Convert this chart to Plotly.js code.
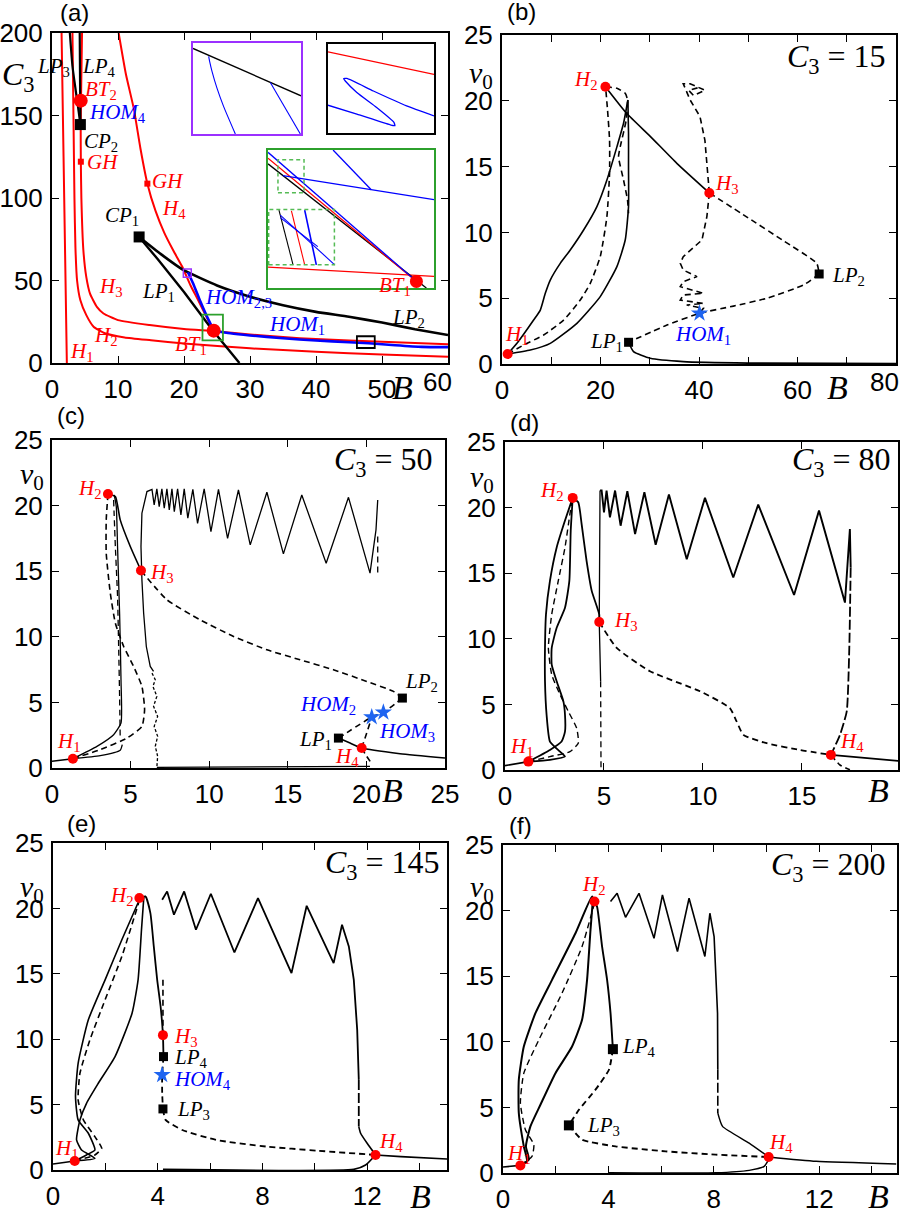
<!DOCTYPE html>
<html><head><meta charset="utf-8">
<script src="https://cdn.plot.ly/plotly-3.0.1.min.js"></script>
<style>html,body{margin:0;padding:0;background:#fff}#g{width:903px;height:1211px}</style>
</head><body><div id="g"></div>
<script>
// ---------------- DATA ----------------
// Panel (a): two-parameter diagram (B, C3)
const aH1 = [[1.45,200],[1.65,150],[1.85,100],[2.05,50],[2.25,0]];
const aH2 = [[3.1,200],[3.25,150],[3.4,100],[3.55,70],[3.8,50],[4.3,38],[5.2,29],[6.3,22],[8,18],[11,15.5],[15,13.8],[20,11.8],[30,8.9],[40,6.8],[50,5.1],[60,3.8]];
const aH3 = [[4.55,200],[4.4,160],[4.35,140],[4.37,122],[4.45,100],[4.75,68.5],[5.2,52],[5.76,42],[6.8,34],[7.8,30],[10,26],[14.8,23],[20,20.6],[24.5,19.3],[30,17.3],[35,15.7],[40,14.5],[50,12.9],[60,11.3]];
const aH4 = [[10.1,200],[11.2,175],[12.4,154],[13.4,130],[14.45,108.7],[15.7,92],[17,79],[18.4,68],[19.7,58.6],[21,47],[22.1,38.4],[23.4,28],[24.5,19.6]];
const aLP3 = [[2.7,200],[3.1,180],[3.6,165],[4.05,152],[4.3,144.5]];
const aLP4 = [[4.2,200],[4.25,170],[4.3,144.5]];
const aLP1 = [[13.2,76.4],[16,63],[20,43],[24.3,20],[28.4,0]];
const aLP2 = [[13.2,76.4],[16.5,66],[19.9,56.4],[25,47],[30,40.2],[35,35],[40,31],[45,28],[50,24.5],[55,20.5],[60,17]];
const aHOM23 = [[20.6,55],[21.4,48],[22.4,38],[23.5,28],[24.5,19.8]];
const aHOM1 = [[24.5,19.6],[27,18],[30,16.7],[35,15],[40,13.6],[45,12.6],[48,12],[52,10.8],[56,9.8],[60,9.6]];
const aBT_B = [4.35,24.5], aBT_C = [159,19.6];
const aCP_B = [4.3,13.2], aCP_C = [144.5,76.4];
const aGH_B = [4.37,14.45], aGH_C = [122,108.7];
const aBoxPurple = [19.9,21.1,52,57], aBoxGreen = [22.8,25.9,13.7,29.3], aBoxBlack = [46.2,48.9,9.1,16.2];
// insets of (a), normalised coordinates
const inPurpleBlack = [[0,0.94],[1,0.42]];
const inPurpleBlue1 = [[0.145,0.853],[0.154,0.798],[0.176,0.688],[0.222,0.504],[0.284,0.301],[0.392,0]];
const inPurpleBlue2 = [[0.716,0.566],[0.994,0]];
const inBlackRed = [[0,0.911],[1,0.658]];
const inBlackBlue = [[0,0.312],[0.272,0.212],[0.584,0.093],[0.631,0.082],[0.622,0.119],[0.459,0.286],[0.272,0.454],[0.163,0.584],[0.147,0.61],[0.178,0.613],[0.428,0.472],[0.741,0.305],[1,0.193]];
const inGreenRedLow = [[0,0.151],[1,0.084]];
const inGreenBlueDiag = [[0,0.983],[0.894,0.048]];
const inGreenRedDiag = [[0,0.94],[0.894,0.048]];
const inGreenBlackDiag = [[0,0.9],[0.954,0]];
const inGreenBlueTop = [[0.392,1],[0.622,0.712]];
const inGreenBlueLong = [[0.09,0.815],[0.622,0.712],[1,0.64]];
const inZoomBlack = [[0.066,0.564],[0.151,0.168]];
const inZoomRed = [[0.141,0.559],[0.221,0.168]];
const inZoomBlue1 = [[0.221,0.564],[0.291,0.168]];
const inZoomBlue2 = [[0.074,0.528],[0.402,0.168]];
const inZoomBlue3 = [[0.074,0.51],[0.3,0.3]];
const inGreenBT = [0.894,0.048];

// Panel (b): C3 = 15
const bH2H3 = [[21.0,21.07],[25.3,19.05],[30.1,17.3],[35.5,15.25],[42.1,13.0]];
const bH3LP2 = [[42.1,13.0],[50,11.1],[57,9.4],[63.9,7.65],[64.4,6.84]];
const bLP2LP1 = [[64.4,6.84],[61.2,6.0],[53.8,5.0],[47,4.4],[40.1,3.85],[33.5,2.96],[25.7,1.65]];
const bLP1Tail = [[25.7,1.65],[26.7,0.94],[30.1,0.43],[36.8,0.18],[50,0.07],[80,0.03]];
const bLoopOuter = [[1.15,0.76],[3.04,1.57],[6.42,3.34],[7.78,4.1],[8.79,5.37],[9.8,6.38],[11.83,7.65],[13.86,8.66],[16.57,10.18],[19.27,11.96],[21.3,13.98],[23.33,16.5],[24.68,18.29],[25.56,20.06]];
const bLoopInner = [[25.56,20.06],[25.69,17.53],[25.69,15.0],[25.69,11.96],[25.02,9.42],[23.33,7.4],[19.95,5.12],[15.21,3.09],[9.8,1.57],[5.75,1.06],[1.15,0.76]];
const bDashLeft = [[1.15,0.76],[4.39,1.44],[8.45,2.2],[12.51,3.34],[15.89,4.86],[17.92,6.13],[19.95,8.16],[21.3,11.2],[21.84,14.49],[21.84,17.02],[21.43,19.3],[21.03,21.07]];
const bDashH2 = [[21.03,21.07],[23.33,20.95],[25.02,20.57],[25.49,20.06],[25.22,18.54],[24.0,16.5],[23.66,15.75],[24.68,13.98],[25.49,12.46],[25.69,11.45]];
const bDashUp = [[42.1,13.0],[41.7,15.0],[41.2,17.0],[40.2,18.8],[38.2,20.06],[37.2,20.95],[36.8,21.3],[38.2,21.3],[41.2,20.8],[38.9,20.4],[37.9,20.8],[39.9,21.0]];
const bDashDown = [[42.1,13.0],[41.6,11.2],[40.6,9.42],[36.8,8.16],[36.2,7.65],[36.8,7.14],[39.6,6.64],[36.8,6.26],[36.2,5.88],[40.9,5.37],[36.8,5.24],[36.2,4.86],[40.9,4.6],[37.5,4.48],[40.9,4.23],[40.1,3.85]];
const bHopfB = [1.15,21.0,42.1], bHopfV = [0.76,21.07,13.0];
const bLPB = [25.7,64.4], bLPV = [1.65,6.84];
const bHomB = [40.1], bHomV = [3.85];

// Panel (c): C3 = 50
const cEqLeft = [[0,0.51],[1.33,0.71]];
const cH2H3 = [[3.56,20.89],[4.03,20.69],[4.34,18.91],[4.98,16.88],[5.66,15.05]];
const cH3LP2 = [[5.66,15.05],[7.31,12.82],[9.43,11.29],[11.55,10.03],[13.67,9.01],[15.78,8.25],[17.9,7.49],[20.02,6.6],[21.72,5.84],[22.29,5.33]];
const cLP2LP1 = [[22.29,5.33],[21.08,4.24],[20.34,3.88],[18.22,2.28]];
const cH4Up = [[19.7,1.52],[20.02,2.66],[20.34,3.88]];
const cH4Down = [[19.7,1.52],[20.02,0.89],[20.28,0.43]];
const cEqRight = [[18.22,2.28],[18.96,1.9],[19.7,1.52],[22.14,1.09],[25,0.76]];
const cBottom = [[6.67,0.05],[20.23,0.13]];
const cDashH1H2 = [[1.33,0.71],[3.07,1.4],[4.77,2.28],[5.72,3.17],[5.89,4.44],[5.72,6.22],[5.19,7.74],[4.56,9.26],[4.03,11.04],[3.71,13.32],[3.45,16.37],[3.45,18.91],[3.56,20.89]];
const cSolidUp = [[1.33,0.71],[2.86,1.65],[3.92,2.54],[4.39,3.43],[4.39,6.73],[4.3,11.8],[4.17,16.88],[4.09,19.92],[3.96,20.81]];
const cSolidLow = [[1.33,0.71],[3.07,0.94],[4.34,1.35],[4.47,1.78]];
const cDash2 = [[3.92,20.43],[4.03,16.88],[4.17,13.07],[4.24,9.26],[4.3,5.46],[4.34,2.16]];
const cOsc = [[6.46,7.36],[6.25,7.74],[6.0,9.26],[5.83,11.8],[5.72,14.34],[5.66,16.88],[5.72,19.42],[6.04,21.07],[6.36,21.24],[6.5,20.05],[6.67,21.27],[6.82,19.92],[6.99,21.27],[7.14,19.8],[7.31,21.27],[7.46,19.67],[7.63,21.27],[7.78,19.54],[7.99,21.27],[8.2,19.29],[8.41,21.27],[8.64,19.04],[8.96,21.24],[9.26,18.65],[9.68,21.27],[10.11,18.02],[10.59,21.24],[11.17,17.51],[11.86,21.19],[12.61,17.01],[13.67,21.02],[14.72,16.32],[15.89,20.81],[17.44,15.61],[18.86,20.63],[20.23,14.85],[20.61,18.15],[20.72,20.43]];
const cOscDash = [[20.72,17.64],[20.72,14.85]];
const cWiggle = [[6.36,7.23],[6.57,6.73],[6.42,6.22],[6.67,5.46],[6.46,4.7],[6.72,3.93],[6.5,3.17],[6.72,2.41],[6.57,1.65],[6.72,0.89],[6.67,0.05]];
const cHopfB = [1.33,3.56,5.66,19.7], cHopfV = [0.71,20.89,15.05,1.52];
const cLPB = [18.22,22.29], cLPV = [2.28,5.33];
const cHomB = [20.34,21.08], cHomV = [3.88,4.24];

// Panel (d): C3 = 80
const dEqLeft = [[0,0.33],[1.18,0.64]];
const dH2H3 = [[3.42,20.74],[3.7,20.41],[3.87,18.75],[4.12,15.94],[4.38,13.65],[4.76,11.86],[4.76,11.28]];
const dH3H4 = [[4.76,11.28],[5.64,9.31],[7.32,7.53],[9.85,6.0],[11.36,4.72],[11.7,3.7],[12.04,2.68],[13.22,2.04],[14.9,1.53],[16.46,1.15]];
const dEqRight = [[16.46,1.15],[19.87,0.69]];
const dH4Down = [[16.46,1.15],[16.92,0.38],[17.42,0.02]];
const dVertSolid = [[4.8,21.3],[4.76,11.28],[4.83,6.76]];
const dVertDash = [[4.83,6.76],[4.85,0.02]];
const dOsc = [[4.8,21.3],[4.88,21.3],[5.0,19.64],[5.13,21.3],[5.3,19.26],[5.56,21.3],[5.84,18.62],[6.18,21.25],[6.57,17.98],[7.04,21.17],[7.61,17.17],[8.28,20.99],[9.18,16.07],[10.1,20.74],[11.53,14.67],[12.79,20.23],[14.6,13.34],[15.86,19.77],[17.17,12.76],[17.42,18.37],[17.46,15.43]];
const dRightDash = [[17.46,15.43],[17.39,9.31],[17.26,4.46],[16.92,2.68],[16.46,1.15]];
const dSolidInner = [[1.18,0.64],[2.27,1.53],[2.86,2.17],[3.03,2.93],[3.03,4.21],[2.95,5.23],[2.61,6.76],[2.36,8.04],[2.36,9.31],[2.61,10.84],[3.03,12.37],[3.25,14.41],[3.32,18.24],[3.42,20.74]];
const dSolidOuter = [[3.42,20.74],[3.03,19.01],[2.61,16.96],[2.27,14.41],[2.07,11.86],[2.02,9.31],[2.02,6.76],[2.1,4.21],[2.27,2.17],[2.78,1.4],[3.03,1.02],[2.27,0.77],[1.18,0.64]];
const dDash = [[1.18,0.64],[2.27,1.02],[3.28,1.4],[3.7,2.04],[3.62,3.19],[3.2,4.46],[2.78,5.74],[2.36,7.27],[2.19,9.31],[2.36,11.86],[2.69,14.41],[3.03,16.96],[3.28,19.52],[3.42,20.74]];
const dHopfB = [1.18,3.42,4.76,16.46], dHopfV = [0.64,20.74,11.28,1.15];

// Panel (e): C3 = 145
const eEqLeft = [[0,0.46],[0.83,0.69]];
const eH2H3 = [[3.3,20.79],[3.53,20.92],[3.72,19.64],[3.85,17.09],[3.98,14.54],[4.11,12.5],[4.2,10.31],[4.22,8.67]];
const eDashUpper = [[4.2,14.54],[4.2,10.31]];
const eLP4LP3 = [[4.22,8.67],[4.17,7.27],[4.17,5.87],[4.2,4.67]];
const eLP3H4 = [[4.2,4.67],[4.3,3.83],[4.94,3.06],[6.23,2.3],[8.15,1.79],[10.08,1.48],[12.32,1.15]];
const eEqRight = [[12.32,1.15],[13.29,1.02],[15.08,0.84]];
const eBottom = [[4.2,0.05],[11.49,0.05],[11.94,0.38],[12.32,1.15]];
const eOsc = [[4.17,20.66],[4.36,21.3],[4.62,19.52],[5.01,21.3],[5.46,18.37],[6.03,21.12],[6.93,16.63],[7.83,20.79],[9.11,15.05],[9.69,20.2],[10.72,15.82],[11.04,18.75],[11.3,17.09],[11.49,14.54],[11.62,10.71],[11.68,6.89]];
const eRightDash = [[11.68,6.89],[11.68,3.32]];
const eRightSolid = [[11.68,3.32],[11.75,2.81],[12.0,2.04],[12.32,1.15]];
const eOuter = [[0.83,0.69],[1.28,1.15],[1.6,1.53],[1.35,2.81],[0.96,3.83],[0.86,5.61],[0.96,8.16],[1.35,11.48],[1.99,14.54],[2.63,17.6],[3.3,20.66]];
const eInner = [[0.83,0.69],[1.6,0.89],[1.09,1.53],[0.9,2.3],[1.03,3.83],[1.28,5.1],[1.73,6.63],[2.37,8.67],[3.02,11.99],[3.25,14.54],[3.38,18.37],[3.47,20.87]];
const eDash = [[0.83,0.69],[1.6,1.15],[1.86,1.66],[1.6,2.55],[1.16,3.83],[0.96,5.36],[1.03,7.4],[1.41,9.95],[1.99,13.01],[2.63,16.33],[3.27,20.41]];
const eHopfB = [0.83,3.3,4.2,12.32], eHopfV = [0.69,20.79,10.31,1.15];
const eLPB = [4.22,4.2], eLPV = [8.67,4.67];
const eHomB = [4.17], eHomV = [7.27];

// Panel (f): C3 = 200
const fEqLeft = [[0,0.46],[0.66,0.58]];
const fH2LP4 = [[3.47,20.69],[3.57,20.3],[3.76,17.26],[3.95,14.72],[4.08,12.18],[4.17,9.44]];
const fLP4LP3 = [[4.17,9.44],[4.02,7.87],[3.51,6.35],[2.88,4.82],[2.5,3.63]];
const fLP3H4 = [[2.5,3.63],[3.0,2.54],[4.27,2.03],[6.17,1.65],[8.07,1.4],[10.08,1.22]];
const fEqRight = [[10.08,1.22],[11.88,0.89],[14.92,0.69]];
const fBottom = [[4.02,0.02],[8.07,0.02],[9.34,0.2],[9.91,0.51],[10.08,1.02]];
const fOsc = [[4.08,20.69],[4.33,21.32],[4.65,19.49],[5.16,21.32],[5.73,17.89],[6.05,21.19],[6.62,16.88],[7.06,20.94],[7.66,16.5],[7.85,19.8],[8.01,18.02],[8.07,15.74],[8.14,12.18],[8.15,7.87]];
const fRightDash = [[8.15,7.87],[8.15,4.57]];
const fRightSolid = [[8.15,4.57],[8.33,3.55],[9.34,2.28],[10.08,1.22]];
const fOuter = [[0.66,0.58],[0.91,0.89],[0.79,2.03],[0.6,4.57],[0.6,7.11],[0.79,9.64],[1.23,12.18],[1.86,14.72],[2.75,18.27],[3.38,21.07],[3.47,20.69]];
const fInner = [[0.66,0.58],[0.98,1.02],[0.87,2.03],[1.04,3.55],[1.42,5.2],[1.99,7.61],[2.62,9.64],[3.0,11.68],[3.19,14.72],[3.32,18.53],[3.41,20.81]];
const fDash = [[0.66,0.58],[1.1,1.27],[1.17,2.16],[0.85,3.3],[0.66,5.33],[0.79,7.61],[1.36,10.15],[2.24,13.71],[3.0,17.26],[3.47,20.56]];
const fHopfB = [0.66,3.47,10.08], fHopfV = [0.58,20.69,1.22];
const fLPB = [4.17,2.5], fLPV = [9.44,3.63];

// tick labels (major labelled values; minor ticks drawn between)
const aXTicks = [0,10,20,30,40,50], aXLast = '60', aYTicks = [0,50,100,150,200];
const vTicks = [0,5,10,15,20,25];
const bXTicks = [0,20,40,60], bXLast = '80';
const cXTicks = [0,5,10,15,20,25];
const dXTicks = [0,5,10,15];
const efXTicks = [0,4,8,12];

// ---------------- RENDERING ----------------
const W = 903, H = 1211;
const RED = '#ff0000', BLUE = '#0000ff', STAR = '#1e64f0', PURPLE = '#9b30ff', GREEN = '#2ca02c';
const traces = [];
function L(pts, ax, color, dash, width, lin) {
  traces.push({type:'scatter', mode:'lines', x:pts.map(p=>p[0]), y:pts.map(p=>p[1]),
    xaxis:'x'+ax, yaxis:'y'+ax, hoverinfo:'skip', showlegend:false, cliponaxis:true,
    line:{color:color, width:width||1.6, dash:dash||'solid', shape: lin?'linear':'spline', smoothing:0.5}});
}
function M(xs, ys, ax, symbol, color, size) {
  traces.push({type:'scatter', mode:'markers', x:xs, y:ys, xaxis:'x'+ax, yaxis:'y'+ax,
    hoverinfo:'skip', showlegend:false, cliponaxis:false,
    marker:{symbol:symbol, color:color, size:size, line:{width:0}}});
}
const DSH = '6px,4px';
// (a)
L(aH1,'',RED,'solid',2); L(aH2,'',RED,'solid',2); L(aH3,'',RED,'solid',2); L(aH4,'',RED,'solid',2);
L(aLP3,'','black','solid',2.2); L(aLP4,'','black','solid',2.2); L(aLP1,'','black','solid',2.4,true); L(aLP2,'','black','solid',2.6);
L(aHOM23,'',BLUE,'solid',2.6); L(aHOM1,'',BLUE,'solid',2.6);
M(aCP_B,aCP_C,'','square','black',11); M(aGH_B,aGH_C,'','square',RED,6); M(aBT_B,aBT_C,'','circle',RED,14);
// insets
L(inPurpleBlack,'7','black','solid',1.3,true); L(inPurpleBlue1,'7',BLUE,'solid',1.1); L(inPurpleBlue2,'7',BLUE,'solid',1.1,true);
L(inBlackRed,'8',RED,'solid',1.3,true); L(inBlackBlue,'8',BLUE,'solid',1.3);
L(inGreenRedLow,'9',RED,'solid',1.3,true); L(inGreenBlackDiag,'9','black','solid',1.3,true); L(inGreenRedDiag,'9',RED,'solid',1.3,true);
L(inGreenBlueDiag,'9',BLUE,'solid',1.3,true); L(inGreenBlueTop,'9',BLUE,'solid',1.3,true); L(inGreenBlueLong,'9',BLUE,'solid',1.3,true);
L(inZoomBlack,'9','black','solid',1.1,true); L(inZoomRed,'9',RED,'solid',1.1,true); L(inZoomBlue1,'9',BLUE,'solid',1.6,true);
L(inZoomBlue2,'9',BLUE,'solid',1.1,true); L(inZoomBlue3,'9',BLUE,'solid',1.1,true);
M([inGreenBT[0]],[inGreenBT[1]],'9','circle',RED,13);
// (b)
L(bH2H3,'2','black'); L(bH3LP2,'2','black',DSH); L(bLP2LP1,'2','black',DSH); L(bLP1Tail,'2','black');
L(bLoopOuter,'2','black'); L(bLoopInner,'2','black'); L(bDashLeft,'2','black',DSH); L(bDashH2,'2','black',DSH);
L(bDashUp,'2','black',DSH,1.6,true); L(bDashDown,'2','black',DSH,1.6,true);
M(bLPB,bLPV,'2','square','black',9); M(bHopfB,bHopfV,'2','circle',RED,10); M(bHomB,bHomV,'2','star',STAR,13);
// (c)
L(cEqLeft,'3','black'); L(cH2H3,'3','black'); L(cH3LP2,'3','black',DSH); L(cLP2LP1,'3','black',DSH);
L(cH4Up,'3','black',DSH); L(cH4Down,'3','black',DSH); L(cEqRight,'3','black'); L(cBottom,'3','black',null,1.2,true);
L(cDashH1H2,'3','black',DSH); L(cSolidUp,'3','black',null,1.3); L(cSolidLow,'3','black',null,1.3); L(cDash2,'3','black',DSH,1.3);
L(cOsc,'3','black',null,1.3,true); L(cOscDash,'3','black',DSH,1.3,true); L(cWiggle,'3','black','3px,2px',1.3,true);
M(cLPB,cLPV,'3','square','black',9); M(cHopfB,cHopfV,'3','circle',RED,10); M(cHomB,cHomV,'3','star',STAR,13);
// (d)
L(dEqLeft,'4','black'); L(dH2H3,'4','black',null,1.8); L(dH3H4,'4','black',DSH,1.8); L(dEqRight,'4','black');
L(dH4Down,'4','black',DSH); L(dVertSolid,'4','black',null,1.3,true); L(dVertDash,'4','black',DSH,1.3,true);
L(dOsc,'4','black',null,1.9,true); L(dRightDash,'4','black','10px,3px',1.8);
L(dSolidInner,'4','black',null,1.8); L(dSolidOuter,'4','black',null,1.8); L(dDash,'4','black',DSH,1.4);
M(dHopfB,dHopfV,'4','circle',RED,10);
// (e)
L(eEqLeft,'5','black'); L(eH2H3,'5','black',null,1.8); L(eDashUpper,'5','black',DSH,1.6,true); L(eLP4LP3,'5','black',DSH,1.8);
L(eLP3H4,'5','black',DSH,1.8); L(eEqRight,'5','black'); L(eBottom,'5','black',null,1.6);
L(eOsc,'5','black',null,1.8,true); L(eRightDash,'5','black','10px,3px',1.8,true); L(eRightSolid,'5','black',null,1.6);
L(eOuter,'5','black',null,1.6); L(eInner,'5','black',null,1.6); L(eDash,'5','black',DSH,1.6);
M(eLPB,eLPV,'5','square','black',9); M(eHopfB,eHopfV,'5','circle',RED,10); M(eHomB,eHomV,'5','star',STAR,13);
// (f)
L(fEqLeft,'6','black'); L(fH2LP4,'6','black',null,1.9); L(fLP4LP3,'6','black',DSH,1.9); L(fLP3H4,'6','black',DSH,1.9);
L(fEqRight,'6','black'); L(fBottom,'6','black',null,1.4);
L(fOsc,'6','black',null,1.6,true); L(fRightDash,'6','black','10px,3px',1.6,true); L(fRightSolid,'6','black',null,1.4);
L(fOuter,'6','black',null,2); L(fInner,'6','black',null,2); L(fDash,'6','black',DSH,1.4);
M(fLPB,fLPV,'6','square','black',10); M(fHopfB,fHopfV,'6','circle',RED,10);

// axes
const TF = {family:'Liberation Sans, Arial, sans-serif', size:26, color:'black'};
function ax(dom, isX, anchor, range, vals, minorStep) {
  const d = isX ? [dom[0]/W, dom[1]/W] : [1-dom[1]/H, 1-dom[0]/H];
  const o = {domain:d, anchor:anchor, range:range, tickmode:'array', tickvals:vals, ticktext:vals.map(String),
    ticks:'inside', ticklen:7, tickwidth:1, tickcolor:'black', showline:true, linewidth:2, linecolor:'black',
    mirror:'ticks', showgrid:false, zeroline:false, tickfont:TF, fixedrange:true, ticklabelstandoff:2};
  if (minorStep) o.minor = {tick0:0, dtick:minorStep, ticks:'inside', ticklen:7, tickwidth:1, tickcolor:'black', showgrid:false};
  return o;
}
function inset(dom, isX, anchor, color) {
  const d = isX ? [dom[0]/W, dom[1]/W] : [1-dom[1]/H, 1-dom[0]/H];
  return {domain:d, anchor:anchor, range:[0,1], showticklabels:false, ticks:'', showline:true, mirror:true,
    linewidth:2, linecolor:color, showgrid:false, zeroline:false, fixedrange:true};
}
const layout = {
  width:W, height:H, margin:{l:0,r:0,t:0,b:0}, paper_bgcolor:'white', plot_bgcolor:'rgba(0,0,0,0)', showlegend:false,
  xaxis: ax([52,448],true,'y',[0,60],aXTicks,10), yaxis: ax([33,363],false,'x',[0,200],aYTicks),
  xaxis2: ax([502,896],true,'y2',[0,80],bXTicks,10), yaxis2: ax([35,364],false,'x2',[0,25],vTicks),
  xaxis3: ax([52,445],true,'y3',[0,25],cXTicks), yaxis3: ax([440,768],false,'x3',[0,25],vTicks),
  xaxis4: ax([505,898],true,'y4',[0,19.85],dXTicks), yaxis4: ax([442,770],false,'x4',[0,25],vTicks),
  xaxis5: ax([53,447],true,'y5',[0,15.05],efXTicks,2), yaxis5: ax([843,1170],false,'x5',[0,25],vTicks),
  xaxis6: ax([503,897],true,'y6',[0,14.95],efXTicks,2), yaxis6: ax([845,1173],false,'x6',[0,25],vTicks),
  xaxis7: inset([193,301],true,'y7',PURPLE), yaxis7: inset([43,134],false,'x7',PURPLE),
  xaxis8: inset([328,434],true,'y8','black'), yaxis8: inset([44,133],false,'x8','black'),
  xaxis9: inset([268,434],true,'y9',GREEN), yaxis9: inset([150,288],false,'x9',GREEN),
  shapes: [
    {type:'rect', xref:'x', yref:'y', x0:aBoxPurple[0], x1:aBoxPurple[1], y0:aBoxPurple[2], y1:aBoxPurple[3], line:{color:PURPLE,width:1.5}},
    {type:'rect', xref:'x', yref:'y', x0:aBoxGreen[0], x1:aBoxGreen[1], y0:aBoxGreen[2], y1:aBoxGreen[3], line:{color:GREEN,width:1.8}},
    {type:'rect', xref:'x', yref:'y', x0:aBoxBlack[0], x1:aBoxBlack[1], y0:aBoxBlack[2], y1:aBoxBlack[3], line:{color:'black',width:1.8}},
    {type:'rect', xref:'x9', yref:'y9', x0:0.06, x1:0.217, y0:0.69, y1:0.93, line:{color:'#55bb55',width:1.5,dash:'4px,3px'}},
    {type:'rect', xref:'x9', yref:'y9', x0:0.004, x1:0.40, y0:0.168, y1:0.568, line:{color:'#55bb55',width:1.5,dash:'4px,3px'}}
  ],
  annotations: []
};
const SER = 'Liberation Serif, Times New Roman, serif';
const SANS = 'Liberation Sans, Arial, sans-serif';
function A(text, x, y, color, size, anchor, fam) {
  layout.annotations.push({xref:'paper', yref:'paper', x:x/W, y:1-y/H, text:text, showarrow:false,
    xanchor:anchor||'left', yanchor:'middle', font:{family:fam||SER, size:size||21, color:color||'black'}});
}
const it = (s, sub) => '<i>'+s+'</i>' + (sub!==undefined ? '<sub>'+sub+'</sub>' : '');
// last x tick labels, drawn pulled inside the figure as in the reference
A(aXLast,437,382,'black',26,'center',SANS); A(bXLast,884,382,'black',26,'center',SANS);
// panel letters
A('(a)',58,13,'black',24,'left',SANS); A('(b)',505,12,'black',24,'left',SANS);
A('(c)',55,416,'black',24,'left',SANS); A('(d)',508,422,'black',24,'left',SANS);
A('(e)',65,824,'black',24,'left',SANS); A('(f)',507,825,'black',24,'left',SANS);
// axis labels
A(it('C','3'),0,76,'black',32); A(it('B'),390,387,'black',34);
A(it('v','0'),467,75,'black',30); A(it('B'),825,388,'black',34);
A(it('v','0'),18,476,'black',30); A(it('B'),380,790,'black',34);
A(it('v','0'),468,479,'black',30); A(it('B'),866,790,'black',34);
A(it('v','0'),18,889,'black',30); A(it('B'),408,1196,'black',34);
A(it('v','0'),468,889,'black',30); A(it('B'),866,1196,'black',34);
// (a) labels
A(it('LP','3'),35,67); A(it('LP','4'),80,67); A(it('BT','2'),83,90,RED); A(it('HOM','4'),87,113,BLUE);
A(it('CP','2'),82,142); A(it('GH'),85,162,RED); A(it('GH'),150,181,RED); A(it('H','4'),160,209,RED);
A(it('CP','1'),103,216); A(it('H','3'),97,287,RED); A(it('LP','1'),140,292); A(it('HOM','2,3'),203,298,BLUE);
A(it('LP','2'),390,318); A(it('HOM','1'),267,325,BLUE); A(it('BT','1'),173,345,RED); A(it('H','2'),92,336,RED);
A(it('H','1'),68,352,RED); A(it('BT','1'),377,286,RED);
// (b)
A(it('C','3')+' = 15',888,58,'black',32,'right'); A(it('H','2'),600,80,RED,21,'right'); A(it('H','3'),713,184,RED);
A(it('LP','2'),830,276); A(it('HOM','1'),673,335,BLUE); A(it('LP','1'),588,342); A(it('H','1'),503,335,RED);
// (c)
A(it('C','3')+' = 50',435,461,'black',32,'right'); A(it('H','2'),104,489,RED,21,'right'); A(it('H','3'),148,573,RED);
A(it('LP','2'),403,682); A(it('HOM','2'),298,705,BLUE); A(it('HOM','3'),377,732,BLUE); A(it('LP','1'),297,740);
A(it('H','4'),333,757,RED); A(it('H','1'),55,742,RED);
// (d)
A(it('C','3')+' = 80',893,462,'black',32,'right'); A(it('H','2'),538,491,RED); A(it('H','3'),612,621,RED);
A(it('H','4'),838,742,RED); A(it('H','1'),508,747,RED);
// (e)
A(it('C','3')+' = 145',442,864,'black',32,'right'); A(it('H','2'),108,896,RED); A(it('H','3'),172,1037,RED);
A(it('LP','4'),172,1058); A(it('HOM','4'),172,1080,BLUE); A(it('LP','3'),175,1110); A(it('H','4'),377,1142,RED);
A(it('H','1'),53,1149,RED);
// (f)
A(it('C','3')+' = 200',888,866,'black',32,'right'); A(it('H','2'),580,885,RED); A(it('LP','4'),620,1047);
A(it('LP','3'),585,1126); A(it('H','4'),767,1143,RED); A(it('H','1'),505,1154,RED);

Plotly.newPlot('g', traces, layout, {staticPlot:true, displayModeBar:false});
</script></body></html>
